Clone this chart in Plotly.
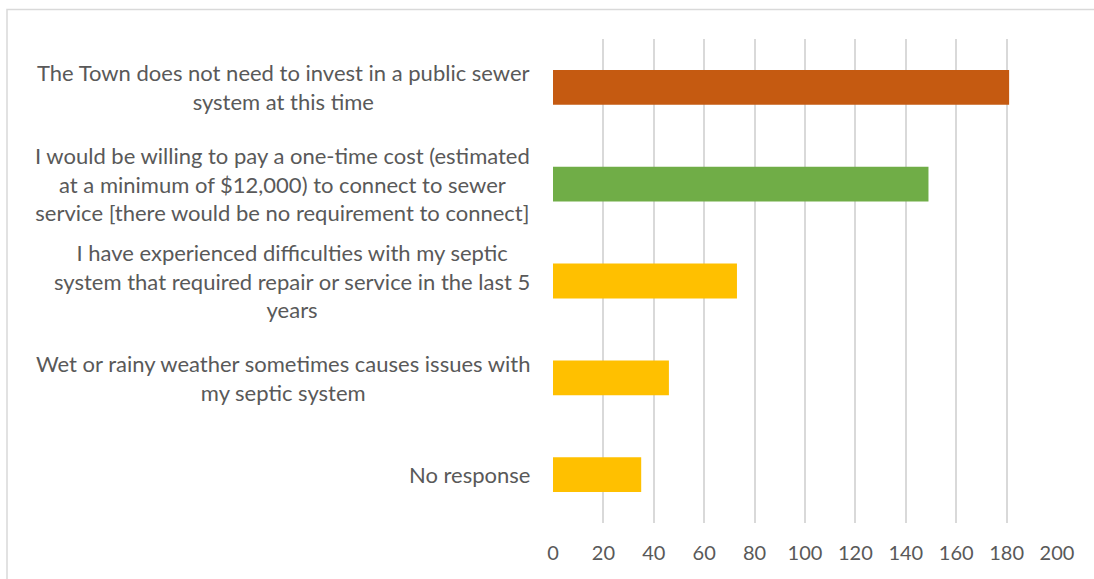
import plotly.graph_objects as go

# Survey responses about a public sewer system
categories = [
    "The Town does not need to invest in a public sewer<br>system at this time",
    "I would be willing to pay a one-time cost (estimated<br>at a minimum of $12,000) to connect to sewer<br>service [there would be no requirement to connect]",
    "I have experienced difficulties with my septic<br>system that required repair or service in the last 5<br>years",
    "Wet or rainy weather sometimes causes issues with<br>my septic system",
    "No response",
]
responses = [181, 149, 73, 46, 35]
bar_colors = ["#C55A11", "#70AD47", "#FFC000", "#FFC000", "#FFC000"]
x_ticks = [0, 20, 40, 60, 80, 100, 120, 140, 160, 180, 200]

FONT = "Lato"
TEXT_GRAY = "#595959"
GRID_GRAY = "#D9D9D9"

W, H = 1094, 579
L, R, T, B = 553, 37, 39, 56
plot_w = W - L - R
plot_h = H - T - B

positions = list(range(len(categories)))

fig = go.Figure(
    go.Bar(
        x=responses,
        y=positions,
        orientation="h",
        marker=dict(color=bar_colors, line=dict(width=0)),
        width=0.36,
        hoverinfo="x",
    )
)

# Category labels: centred multi-line text, right edge aligned next to the plot
for pos, label in zip(positions, categories):
    fig.add_annotation(
        x=0, xref="paper", y=pos, yref="y",
        text=label, showarrow=False,
        xanchor="right", yanchor="middle", align="center",
        xshift=-21,
        font=dict(family=FONT, size=22, color=TEXT_GRAY),
    )

# Chart frame (left and top edges visible)
def px_to_paper_x(px):
    return (px - L) / plot_w

def px_to_paper_y(py):
    return (H - B - py) / plot_h

fig.add_shape(
    type="rect", xref="paper", yref="paper",
    x0=px_to_paper_x(7), x1=px_to_paper_x(W + 20),
    y0=px_to_paper_y(H + 20), y1=px_to_paper_y(9.5),
    line=dict(color=GRID_GRAY, width=1.5),
    fillcolor="rgba(0,0,0,0)",
    layer="below",
)

fig.update_layout(
    width=W, height=H,
    margin=dict(l=L, r=R, t=T, b=B, pad=0),
    paper_bgcolor="white",
    plot_bgcolor="white",
    showlegend=False,
    bargap=0.64,
    font=dict(family=FONT, size=20, color=TEXT_GRAY),
    xaxis=dict(
        range=[0, 200],
        tickvals=x_ticks,
        ticktext=[str(v) for v in x_ticks],
        showgrid=True, gridcolor=GRID_GRAY, gridwidth=1.5,
        zeroline=False, showline=False,
        ticks="outside", ticklen=12, tickcolor="rgba(0,0,0,0)",
        tickfont=dict(family=FONT, size=20, color=TEXT_GRAY),
        fixedrange=True,
    ),
    yaxis=dict(
        range=[len(categories) - 0.5, -0.5],
        tickvals=positions,
        showticklabels=False,
        showgrid=False, zeroline=False, showline=False,
        fixedrange=True,
    ),
)

fig.write_html("out.html")
